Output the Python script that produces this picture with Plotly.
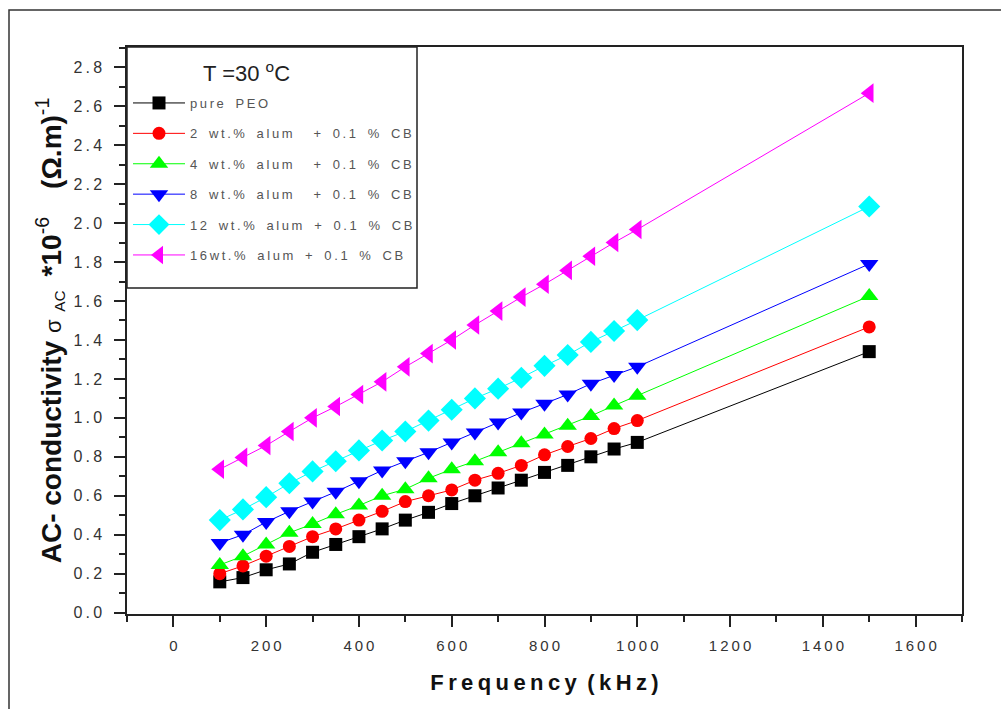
import plotly.graph_objects as go

freq_khz = [100, 150, 200, 250, 300, 350, 400, 450, 500, 550, 600, 650, 700, 750, 800, 850, 900, 950, 1000, 1500]

pure_peo = [0.158, 0.18, 0.22, 0.25, 0.31, 0.35, 0.39, 0.43, 0.475, 0.515, 0.56, 0.60, 0.64, 0.68, 0.72, 0.756, 0.80, 0.84, 0.874, 1.34]
alum2_cb = [0.20, 0.24, 0.29, 0.34, 0.39, 0.43, 0.475, 0.52, 0.57, 0.60, 0.63, 0.68, 0.715, 0.756, 0.81, 0.853, 0.894, 0.945, 0.986, 1.467]
alum4_cb = [0.245, 0.29, 0.35, 0.41, 0.455, 0.505, 0.55, 0.60, 0.634, 0.69, 0.736, 0.777, 0.823, 0.87, 0.915, 0.96, 1.01, 1.063, 1.114, 1.625]
alum8_cb = [0.358, 0.40, 0.465, 0.52, 0.57, 0.62, 0.675, 0.73, 0.777, 0.823, 0.874, 0.925, 0.976, 1.027, 1.073, 1.12, 1.175, 1.22, 1.262, 1.79]
alum12_cb = [0.475, 0.53, 0.593, 0.664, 0.725, 0.777, 0.833, 0.884, 0.93, 0.986, 1.042, 1.10, 1.15, 1.206, 1.267, 1.323, 1.39, 1.446, 1.502, 2.085]
alum16_cb = [0.736, 0.797, 0.858, 0.93, 1.0, 1.058, 1.12, 1.185, 1.262, 1.33, 1.40, 1.477, 1.548, 1.62, 1.686, 1.757, 1.83, 1.90, 1.967, 2.667]

series_names = [
    "pure PEO",
    "2 wt.% alum  + 0.1 % CB",
    "4 wt.% alum  + 0.1 % CB",
    "8 wt.% alum  + 0.1 % CB",
    "12 wt.% alum + 0.1 % CB",
    "16wt.% alum + 0.1 % CB",
]
series_values = [pure_peo, alum2_cb, alum4_cb, alum8_cb, alum12_cb, alum16_cb]
series_colors = ["#000000", "#FF0000", "#00FF00", "#0000FF", "#00FFFF", "#FF00FF"]
series_symbols = ["square", "circle", "triangle-up", "triangle-down", "diamond", "triangle-left"]
series_sizes = [13, 13, 16, 16, 17, 17]

legend_title = "T =30 <sup>o</sup>C"

y_tick_vals = [0.0, 0.2, 0.4, 0.6, 0.8, 1.0, 1.2, 1.4, 1.6, 1.8, 2.0, 2.2, 2.4, 2.6, 2.8]
y_tick_labels = ["0.0", "0.2", "0.4", "0.6", "0.8", "1.0", "1.2", "1.4", "1.6", "1.8", "2.0", "2.2", "2.4", "2.6", "2.8"]
x_tick_vals = [0, 200, 400, 600, 800, 1000, 1200, 1400, 1600]
x_tick_labels = ["0", "200", "400", "600", "800", "1000", "1200", "1400", "1600"]

TS = "\u2009"  # thin space used to mimic the wide letter spacing
EN = "\u2002"


def spaced(s):
    out = []
    for ch in s:
        out.append(EN if ch == " " else ch)
    return TS.join(out)


fig = go.Figure()
for i, (name, vals, col, sym, sz) in enumerate(zip(series_names, series_values, series_colors, series_symbols, series_sizes)):
    fig.add_trace(go.Scatter(
        x=freq_khz, y=vals, name=spaced(name), mode="lines+markers",
        line=dict(color=col, width=1),
        marker=dict(symbol=sym, size=sz, color=col, line=dict(width=0)),
        legendgroup=f"g{i}",
    ))

ml, mr, mt, mb = 127, 39, 47, 95
W, H = 1001, 709
pw, ph = W - ml - mr, H - mt - mb


def px_x(p):
    return (p - ml) / pw


def px_y(p):
    return (H - mb - p) / ph


fig.update_layout(
    width=W, height=H,
    margin=dict(l=ml, r=mr, t=mt, b=mb, pad=0),
    paper_bgcolor="white", plot_bgcolor="white",
    font=dict(family="Liberation Sans, Arial, sans-serif", color="#222"),
    showlegend=True,
    legend=dict(
        x=px_x(128), y=px_y(88), xanchor="left", yanchor="top",
        borderwidth=0, bgcolor="rgba(255,255,255,0)",
        font=dict(size=13, color="#555"),
        tracegroupgap=10.5,
        itemwidth=52,
        itemclick=False,
    ),
    xaxis=dict(
        range=[-100, 1700], showgrid=False, zeroline=False,
        showline=True, linecolor="#222", linewidth=1.5, mirror=True,
        ticks="outside", ticklen=11, tickwidth=1.5, tickcolor="#222",
        tickvals=x_tick_vals, ticktext=[spaced(t) for t in x_tick_labels],
        tickfont=dict(size=15, color="#333"), ticklabelstandoff=6,
        minor=dict(dtick=100, tick0=0, ticks="outside", ticklen=6, tickwidth=1.5, tickcolor="#222"),
        title=dict(text="<b>" + "\u2009".join(list("Frequency")) + "\u2009 (\u2009k\u2009H\u2009z\u2009)</b>",
                   font=dict(size=22, color="#111"), standoff=22),
    ),
    yaxis=dict(
        range=[-0.007, 2.904], showgrid=False, zeroline=False,
        showline=True, linecolor="#222", linewidth=1.5, mirror=True,
        ticks="outside", ticklen=11, tickwidth=1.5, tickcolor="#222",
        tickvals=y_tick_vals, ticktext=[spaced(t) for t in y_tick_labels],
        tickfont=dict(size=16, color="#333"), ticklabelstandoff=9,
        minor=dict(dtick=0.1, tick0=0, ticks="outside", ticklen=6, tickwidth=1.5, tickcolor="#222"),
        title=dict(text="<b>AC- conductivity</b> <span style='font-size:22px'>σ<sub>" + EN + "AC</sub></span>"
                        + EN + "<b>*10</b><sup>-6</sup>" + EN + EN + "<b>(Ω.m)</b><sup>-1</sup>",
                   font=dict(size=28, color="#111"), standoff=4),
    ),
    annotations=[dict(text=legend_title, xref="paper", yref="paper",
                      x=px_x(246), y=px_y(72), xanchor="center", yanchor="middle",
                      showarrow=False, font=dict(size=22, color="#222"))],
    shapes=[
        dict(type="rect", xref="paper", yref="paper",
             x0=px_x(9), x1=px_x(1010), y0=px_y(720), y1=px_y(10),
             line=dict(color="#333", width=1.5), fillcolor="rgba(0,0,0,0)", layer="below"),
        dict(type="rect", xref="paper", yref="paper",
             x0=0, x1=px_x(417), y0=px_y(288), y1=1,
             line=dict(color="#222", width=1.5), fillcolor="white", layer="below"),
    ],
)

fig.write_html("out.html")
